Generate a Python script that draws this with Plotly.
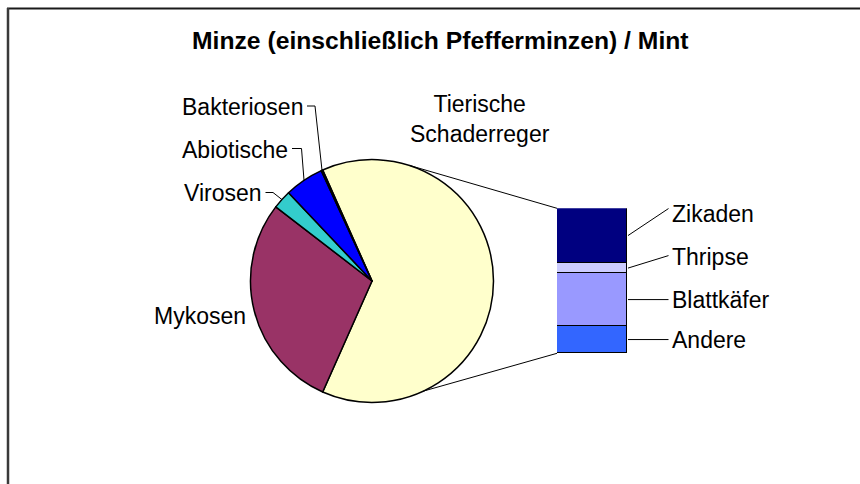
import math
import plotly.graph_objects as go

# ---------------- data ----------------
title_text = "Minze (einschließlich Pfefferminzen) / Mint"

pie_labels = ["Mykosen", "Virosen", "Abiotische", "Bakteriosen"]
pie_values = [28.8, 2.5, 5.2, 0.2]
pie_colors = ["#993366", "#33CCCC", "#0000FF", "#0000FF"]

other_label = "Tierische<br>Schaderreger"
other_color = "#FFFFCC"

bar_labels = ["Zikaden", "Thripse", "Blattkäfer", "Andere"]       # top -> bottom
bar_values = [23.8, 4.6, 22.9, 12.0]
bar_colors = ["#000080", "#CCCCFF", "#9999FF", "#3366FF"]

# ---------------- layout geometry (pixels) ----------------
W, H = 860, 484
FONT = "Liberation Sans, Arial, sans-serif"
LABEL_SIZE = 23
PIE_CX, PIE_CY, PIE_R = 372, 281, 121.5
BAR_X0, BAR_X1, BAR_TOP, BAR_BOT = 557, 627, 208.3, 353.3


def px(x):
    return x / W


def py(y):
    return 1 - y / H


other_value = sum(bar_values)
total = other_value + sum(pie_values)
rotation = 90 - 360 * other_value / total / 2

fig = go.Figure()

# ---------------- pie ----------------
fig.add_trace(go.Pie(
    labels=["Tierische Schaderreger"] + pie_labels,
    values=[other_value] + pie_values,
    marker=dict(colors=[other_color] + pie_colors, line=dict(color="black", width=1.5)),
    sort=False,
    direction="clockwise",
    rotation=rotation,
    textinfo="none",
    hoverinfo="label+value",
    showlegend=False,
    domain=dict(x=[px(PIE_CX - PIE_R), px(PIE_CX + PIE_R)],
                y=[py(PIE_CY + PIE_R), py(PIE_CY - PIE_R)]),
))

# ---------------- stacked bar ----------------
for lab, val, col in reversed(list(zip(bar_labels, bar_values, bar_colors))):
    fig.add_trace(go.Bar(
        x=["Tierische"], y=[val], name=lab,
        marker=dict(color=col, line=dict(color="black", width=1.5)),
        showlegend=False, hoverinfo="name+y",
    ))

shapes = []
annotations = []

# title
annotations.append(dict(
    text="<b>" + title_text + "</b>", x=px(440), y=py(40.5), xref="paper", yref="paper",
    xanchor="center", yanchor="middle", showarrow=False,
    font=dict(family=FONT, size=24.7, color="black"),
))

# chart area border (top and left visible)
shapes.append(dict(type="line", xref="paper", yref="paper", x0=px(7), x1=px(862), y0=py(8.5), y1=py(8.5),
                   line=dict(color="#1a1a1a", width=2)))
shapes.append(dict(type="line", xref="paper", yref="paper", x0=px(8), x1=px(8), y0=py(8), y1=py(486),
                   line=dict(color="#3a3a3a", width=2.5)))


def pie_point(angle_deg, r=PIE_R):
    a = math.radians(angle_deg)
    return PIE_CX + r * math.sin(a), PIE_CY - r * math.cos(a)


# slice mid angles (clockwise from 12 o'clock)
cum = rotation + 360 * other_value / total
mid_angles = {}
for lab, val in zip(pie_labels, pie_values):
    span = 360 * val / total
    mid_angles[lab] = cum + span / 2
    cum += span

# pie labels: text right x, text center y, elbow y, elbow start x, elbow end x
pie_label_pos = {
    "Bakteriosen": (305, 107.5, 106, 307, 315),
    "Abiotische": (290, 150, 148.5, 292, 301.5),
    "Virosen": (263.5, 193, 192.5, 265.5, 273),
    "Mykosen": (248, 316, None, None, None),
}
for lab in pie_labels:
    tx, ty, ey, e0, e1 = pie_label_pos[lab]
    annotations.append(dict(
        text=lab, x=px(tx), y=py(ty), xref="paper", yref="paper",
        xanchor="right", yanchor="middle", showarrow=False,
        font=dict(family=FONT, size=LABEL_SIZE, color="black"),
    ))
    if ey is not None:
        ex, eyy = pie_point(mid_angles[lab])
        shapes.append(dict(type="path", xref="paper", yref="paper",
                           path=f"M {px(e0)} {py(ey)} L {px(e1)} {py(ey)} L {px(ex)} {py(eyy)}",
                           line=dict(color="black", width=1)))

# other-slice label
annotations.append(dict(
    text=other_label, x=px(480), y=py(119.5), xref="paper", yref="paper",
    xanchor="center", yanchor="middle", showarrow=False, align="center",
    font=dict(family=FONT, size=LABEL_SIZE, color="black"),
))

# connector lines pie -> bar
CONNECT_TOP_ANGLE, CONNECT_BOT_ANGLE = 18, 155
tx_, ty_ = pie_point(CONNECT_TOP_ANGLE)
bx_, by_ = pie_point(CONNECT_BOT_ANGLE)
shapes.append(dict(type="line", xref="paper", yref="paper", x0=px(tx_), y0=py(ty_),
                   x1=px(BAR_X0), y1=py(BAR_TOP), line=dict(color="black", width=1)))
shapes.append(dict(type="line", xref="paper", yref="paper", x0=px(bx_), y0=py(by_),
                   x1=px(BAR_X0), y1=py(BAR_BOT), line=dict(color="black", width=1)))

# bar labels with leader lines
text_shift = [-21.5, -11, 0, 0]       # pixels: label raised above segment mid
leader_end_shift = [-27, -12.5, 0, 0]
bar_px = BAR_BOT - BAR_TOP
acc = 0
mids = []
for v in reversed(bar_values):
    mids.append(acc + v / 2)
    acc += v
mids = list(reversed(mids))
for lab, m, ts, ls in zip(bar_labels, mids, text_shift, leader_end_shift):
    y_mid_px = BAR_BOT - m / other_value * bar_px
    shapes.append(dict(type="line", xref="paper", yref="paper",
                       x0=px(BAR_X1 + 1), y0=py(y_mid_px), x1=px(668.5), y1=py(y_mid_px + ls),
                       line=dict(color="black", width=1)))
    annotations.append(dict(
        text=lab, x=px(669.5), y=py(y_mid_px + ts), xref="paper", yref="paper",
        xanchor="left", yanchor="middle", showarrow=False,
        font=dict(family=FONT, size=LABEL_SIZE, color="black"),
    ))

fig.update_layout(
    width=W, height=H, autosize=False,
    margin=dict(l=0, r=0, t=0, b=0),
    paper_bgcolor="white", plot_bgcolor="rgba(0,0,0,0)",
    barmode="stack", bargap=0,
    xaxis=dict(domain=[px(BAR_X0), px(BAR_X1)], range=[-0.5, 0.5], visible=False, fixedrange=True),
    yaxis=dict(domain=[py(BAR_BOT), py(BAR_TOP)], range=[0, other_value], visible=False, fixedrange=True),
    shapes=shapes, annotations=annotations,
    showlegend=False,
)

fig.write_html("out.html", config={"displayModeBar": False},
               post_script="document.body.style.margin='0';document.body.style.overflow='hidden';")
